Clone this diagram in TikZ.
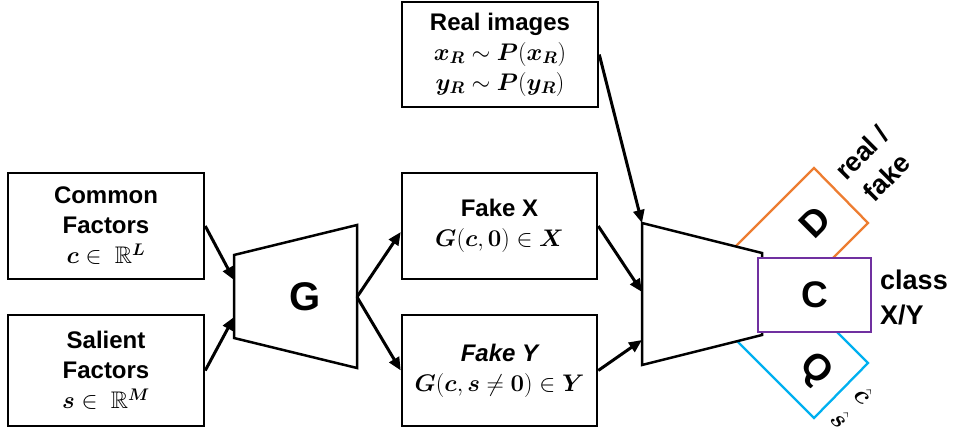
\RequirePackage{fix-cm}
\documentclass[tikz,border=0pt]{standalone}
\usepackage{amsmath,amssymb}
\usepackage{bm}
\usepackage{fontspec}
\setmainfont{Liberation Sans}
\usetikzlibrary{arrows.meta}
\definecolor{dorange}{HTML}{ED7D31}
\definecolor{cpurple}{HTML}{7030A0}
\definecolor{qblue}{HTML}{00B0F0}
\newcommand\boxfont{\fontsize{24}{30}\selectfont\bfseries}
\newcommand\labfont{\fontsize{27}{35}\selectfont\bfseries}
\newcommand\hatfont{\fontsize{26}{33}\selectfont}
\begin{document}
\begin{tikzpicture}[x=1pt,y=-1pt,
  box/.style={draw, line width=2.5pt, inner sep=0pt, align=center, font=\boxfont, fill=white},
  arr/.style={line width=3pt, -{Triangle[length=13pt,width=11pt]}},
  trap/.style={draw, line width=2.5pt, fill=white, line join=miter},
  big/.style={font=\fontsize{40}{40}\selectfont\bfseries},
  mid/.style={font=\fontsize{37}{37}\selectfont\bfseries},
  sidelab/.style={font=\labfont, inner sep=0pt}]
\useasboundingbox (0,0) rectangle (955,434);

% input boxes
\node[box, minimum width=196pt, minimum height=106pt] (common) at (106,226)
  {Common\\Factors\\$\bm{c}\in\ \mathbb{R}^{\bm{L}}$};
\node[box, minimum width=196pt, minimum height=111pt] (salient) at (106,370.5)
  {Salient\\Factors\\$\bm{s}\in\ \mathbb{R}^{\bm{M}}$};

% generator
\draw[trap] (234,255) -- (357,225) -- (357,368) -- (234,338) -- cycle;
\node[big] (g) at (305,297) {G};
\coordinate (gin1) at (234,280);
\coordinate (gin2) at (234,317);
\coordinate (gout) at (357,297);

% middle boxes
\node[box, minimum width=196pt, minimum height=105pt] (real) at (500,54.5)
  {Real images\\$\bm{x_R}\sim\bm{P}(\bm{x_R})$\\$\bm{y_R}\sim\bm{P}(\bm{y_R})$};
\node[box, minimum width=195pt, minimum height=106pt] (fakex) at (499.5,226)
  {Fake X\\$\bm{G}(\bm{c},\bm{0})\in\bm{X}$};
\node[box, minimum width=195pt, minimum height=111pt] (fakey) at (499.5,370.5)
  {\itshape Fake Y\\$\bm{G}(\bm{c},\bm{s}\neq\bm{0})\in\bm{Y}$};

% heads behind the discriminator body
\draw[dorange, line width=2.3pt] (814,168) -- (868,223) -- (769,322) -- (715,267) -- cycle;
\draw[qblue, line width=2.3pt] (814,418) -- (868,363) -- (769,264) -- (715,319) -- cycle;

% discriminator body
\draw[trap] (642,223) -- (762,253) -- (762,335) -- (642,365) -- cycle;
\coordinate (din0) at (642,223);
\coordinate (din1) at (642,292);
\coordinate (din2) at (642,340);

\node[draw=cpurple, line width=2.5pt, fill=white, minimum width=113pt, minimum height=74pt,
  inner sep=0pt, mid] (c) at (814.5,295) {C};
\node[mid, rotate=45] (d) at (815,222) {D};
\node[mid, rotate=-45] (q) at (815,370) {Q};

\node[sidelab, align=center, rotate=45] (rf) at (874,165) {real /\\fake};
\node[sidelab, align=left, anchor=west] (cls) at (880,297) {class\\X/Y};
\node[font=\hatfont, align=left, inner sep=0pt, rotate=-45] (cs) at (852,407)
  {$\hat{\bm{c}}$\\$\hat{\bm{s}}$};

% connectors
\draw[arr] (common.east) -- (gin1);
\draw[arr] (salient.east) -- (gin2);
\draw[arr] (gout) -- ([yshift=-6pt]fakex.west);
\draw[arr] (gout) -- (fakey.west);
\draw[arr] (real.east) -- (din0);
\draw[arr] (fakex.east) -- (din1);
\draw[arr] (fakey.east) -- (din2);
\end{tikzpicture}
\end{document}
